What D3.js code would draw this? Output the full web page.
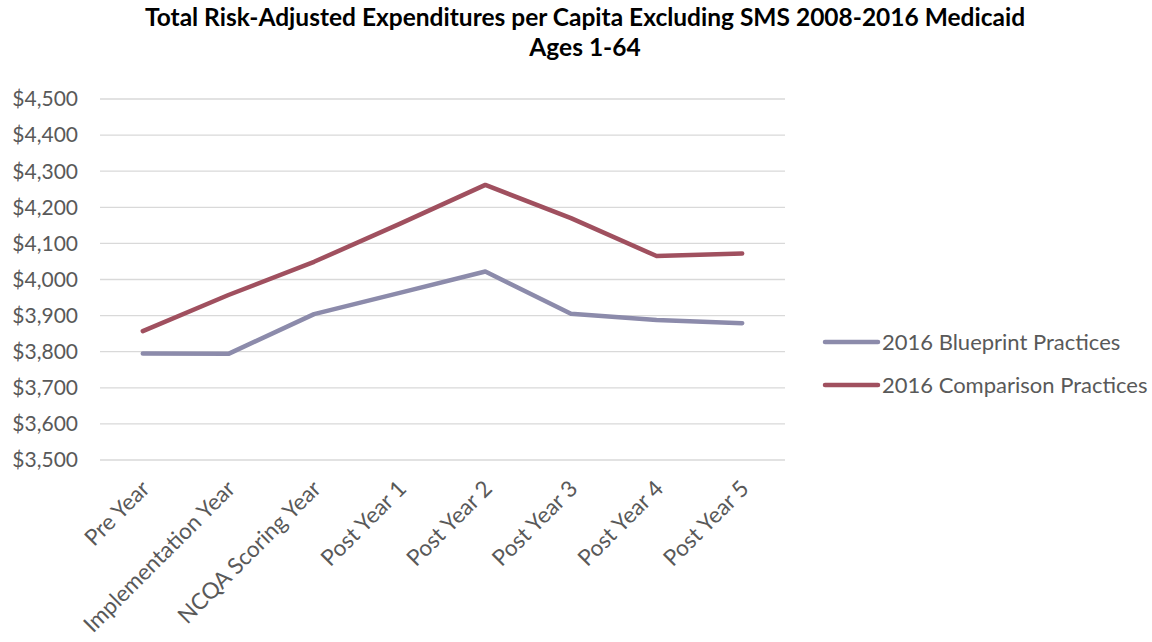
<!DOCTYPE html>
<html>
<head>
<meta charset="utf-8">
<script src="https://cdn.jsdelivr.net/npm/d3@7"></script>
<style>
  body { margin: 0; background: #fff; }
  svg text { font-family: Lato, "Open Sans", sans-serif; }
</style>
</head>
<body>
<div id="chart"></div>
<script>
const categories = ["Pre Year", "Implementation Year", "NCQA Scoring Year", "Post Year 1",
  "Post Year 2", "Post Year 3", "Post Year 4", "Post Year 5"];
const blueprint = [3795, 3794, 3904, 3963, 4022, 3905, 3888, 3879];
const comparison = [3857, 3957, 4049, 4154, 4262, 4170, 4065, 4072];
const seriesNames = ["2016 Blueprint Practices", "2016 Comparison Practices"];
const yTicks = [3500, 3600, 3700, 3800, 3900, 4000, 4100, 4200, 4300, 4400, 4500];

const width = 1152, height = 642;
const plot = { left: 100, right: 785, top: 99, bottom: 460 };
const colors = ["#8C8BAB", "#A0505F"];

const svg = d3.select("#chart").append("svg")
  .attr("width", width)
  .attr("height", height);

// title
svg.append("text")
  .attr("x", 585).attr("y", 26)
  .attr("text-anchor", "middle")
  .style("font-size", "24.5px").style("font-weight", "bold").attr("fill", "#000")
  .text("Total Risk-Adjusted Expenditures per Capita Excluding SMS 2008-2016 Medicaid");
svg.append("text")
  .attr("x", 585).attr("y", 56)
  .attr("text-anchor", "middle")
  .style("font-size", "24.5px").style("font-weight", "bold").attr("fill", "#000")
  .text("Ages 1-64");

const x = d3.scalePoint()
  .domain(categories)
  .range([plot.left, plot.right])
  .padding(0.5);

const y = d3.scaleLinear()
  .domain([3500, 4500])
  .range([plot.bottom, plot.top]);

// gridlines
svg.append("g")
  .selectAll("line")
  .data(yTicks)
  .join("line")
  .attr("x1", plot.left).attr("x2", plot.right)
  .attr("y1", d => y(d)).attr("y2", d => y(d))
  .attr("stroke", "#d9d9d9").attr("stroke-width", 1.3);

// y axis labels
const fmt = d3.format("$,");
svg.append("g")
  .selectAll("text")
  .data(yTicks)
  .join("text")
  .attr("x", 78).attr("y", d => y(d))
  .attr("dy", "0.35em")
  .attr("text-anchor", "end")
  .attr("fill", "#595959")
  .style("font-size", "21px")
  .text(d => fmt(d));

// x axis labels
svg.append("g")
  .selectAll("text")
  .data(categories)
  .join("text")
  .attr("transform", d => `translate(${x(d) - 3},${plot.bottom + 19}) rotate(-45)`)
  .attr("text-anchor", "end")
  .attr("dy", "0.7em")
  .attr("fill", "#595959")
  .style("font-size", "22.5px")
  .text(d => d);

// lines
const line = d3.line()
  .x((d, i) => x(categories[i]))
  .y(d => y(d));

[blueprint, comparison].forEach((s, i) => {
  svg.append("path")
    .datum(s)
    .attr("d", line)
    .attr("fill", "none")
    .attr("stroke", colors[i])
    .attr("stroke-width", 4.5)
    .attr("stroke-linecap", "round")
    .attr("stroke-linejoin", "round");
});

// legend
const legend = svg.append("g");
seriesNames.forEach((name, i) => {
  const ly = 342 + i * 43;
  legend.append("line")
    .attr("x1", 825).attr("x2", 878)
    .attr("y1", ly).attr("y2", ly)
    .attr("stroke", colors[i]).attr("stroke-width", 4.5)
    .attr("stroke-linecap", "round");
  legend.append("text")
    .attr("x", 882).attr("y", ly)
    .attr("dy", "0.35em")
    .attr("fill", "#595959")
    .style("font-size", "22px")
    .text(name);
});
</script>
</body>
</html>
